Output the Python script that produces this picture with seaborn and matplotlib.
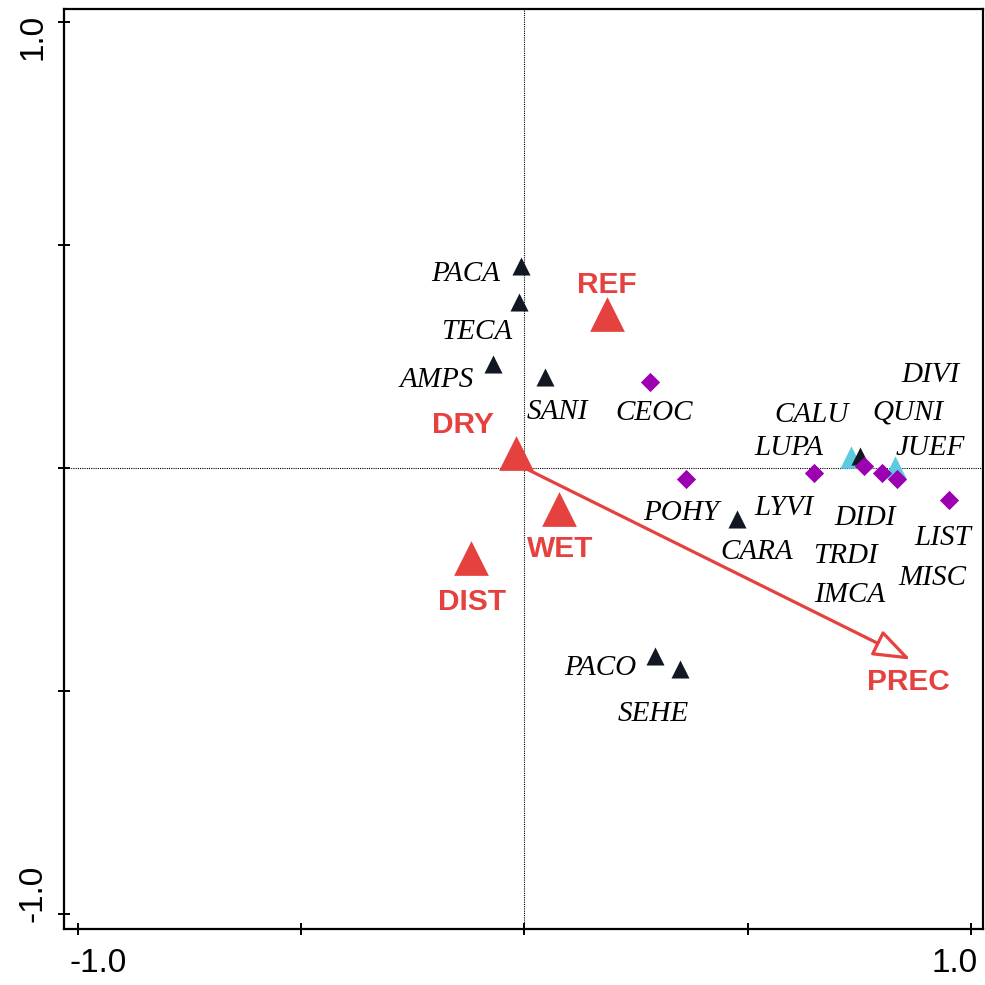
import matplotlib
matplotlib.use("Agg")
import matplotlib.pyplot as plt
import seaborn as sns
import pandas as pd

# ---------------- data ----------------
# species scores (black triangles)
sp_tri_x = [-0.008, -0.013, -0.071, 0.046, 0.477, 0.293, 0.349, 0.751]
sp_tri_y = [0.452, 0.372, 0.234, 0.203, -0.115, -0.422, -0.452, 0.027]
# species scores (cyan triangles)
sp_cyan_x = [0.731, 0.829]
sp_cyan_y = [0.025, 0.002]
# species scores (purple diamonds)
sp_dia_x = [0.282, 0.361, 0.649, 0.760, 0.800, 0.835, 0.951]
sp_dia_y = [0.192, -0.024, -0.012, 0.004, -0.011, -0.025, -0.072]

# species labels and label anchor positions (baseline)
sp_names = ["PACA", "TECA", "AMPS", "SANI", "CEOC", "CALU", "LUPA", "DIVI",
            "QUNI", "JUEF", "POHY", "LYVI", "CARA", "DIDI", "TRDI", "IMCA",
            "LIST", "MISC", "PACO", "SEHE"]
sp_lab_x = [-0.131, -0.106, -0.196, 0.073, 0.290, 0.642, 0.592, 0.910,
            0.859, 0.908, 0.350, 0.581, 0.521, 0.763, 0.720, 0.729,
            0.937, 0.913, 0.169, 0.288]
sp_lab_y = [0.419, 0.289, 0.182, 0.110, 0.108, 0.103, 0.029, 0.193,
            0.108, 0.029, -0.117, -0.105, -0.204, -0.128, -0.213, -0.300,
            -0.173, -0.262, -0.464, -0.567]

# nominal environmental variables (red triangles)
env_names = ["REF", "DRY", "WET", "DIST"]
env_x = [0.186, -0.018, 0.077, -0.119]
env_y = [0.345, 0.033, -0.092, -0.203]
env_lab_x = [0.185, -0.138, 0.080, -0.118]
env_lab_y = [0.392, 0.078, -0.200, -0.318]

# quantitative environmental variable (arrow)
arrow_names = ["PREC"]
arrow_x = [0.865]
arrow_y = [-0.430]
arrow_lab_x = [0.861]
arrow_lab_y = [-0.498]

# axis ticks
tick_vals = [-1.0, -0.5, 0.0, 0.5, 1.0]
tick_labels = ["-1.0", "1.0"]

# ---------------- style ----------------
RED = "#E5413E"
PURPLE = "#9C00B0"
CYAN = "#5CCBE2"
BLACK = "#111822"

sns.set_style("white")
plt.rcParams["font.family"] = ["Liberation Sans", "DejaVu Sans"]

fig = plt.figure(figsize=(9.85, 9.85), dpi=100)
ax = fig.add_axes([64 / 985, 56 / 985, 919 / 985, 920 / 985])

df_cyan = pd.DataFrame({"x": sp_cyan_x, "y": sp_cyan_y})
df_tri = pd.DataFrame({"x": sp_tri_x, "y": sp_tri_y})
df_dia = pd.DataFrame({"x": sp_dia_x, "y": sp_dia_y})
df_env = pd.DataFrame({"x": env_x, "y": env_y, "name": env_names})

ax.axhline(0, color="black", lw=0.8, ls=(0, (1, 1)), zorder=1)
ax.axvline(0, color="black", lw=0.8, ls=(0, (1, 1)), zorder=1)

# arrow for PREC
for a_x, a_y in zip(arrow_x, arrow_y):
    ax.annotate("", xy=(a_x, a_y), xytext=(0, 0),
                arrowprops=dict(arrowstyle="-|>,head_length=1.15,head_width=0.42",
                                mutation_scale=20, fc="white", ec=RED, lw=2.3,
                                shrinkA=0, shrinkB=0),
                zorder=2)

sns.scatterplot(data=df_cyan, x="x", y="y", marker="^", s=16 ** 2,
                color=CYAN, linewidth=0, ax=ax, zorder=3)
sns.scatterplot(data=df_tri, x="x", y="y", marker="^", s=13 ** 2,
                color=BLACK, linewidth=0, ax=ax, zorder=4)
sns.scatterplot(data=df_dia, x="x", y="y", marker="D", s=9.8 ** 2,
                color=PURPLE, linewidth=0, ax=ax, zorder=5)
sns.scatterplot(data=df_env, x="x", y="y", marker="^", s=25 ** 2,
                color=RED, linewidth=0, ax=ax, zorder=6)

for n, lx, ly in zip(sp_names, sp_lab_x, sp_lab_y):
    ax.text(lx, ly, n, ha="center", va="baseline", fontsize=21,
            family=["Liberation Serif", "DejaVu Serif"], style="italic",
            color="black", zorder=7)

for n, lx, ly in zip(env_names + arrow_names, env_lab_x + arrow_lab_x,
                     env_lab_y + arrow_lab_y):
    ax.text(lx, ly, n, ha="center", va="baseline", fontsize=21.5,
            fontweight="bold", color=RED, zorder=7)

ax.set_xlim(-1.031, 1.027)
ax.set_ylim(-1.034, 1.029)
ax.set_xlabel("")
ax.set_ylabel("")

for sp in ax.spines.values():
    sp.set_visible(True)
    sp.set_linewidth(1.6)
    sp.set_color("black")

ax.set_xticks(tick_vals)
ax.set_yticks(tick_vals)
ax.set_xticklabels([])
ax.set_yticklabels([])
ax.tick_params(which="major", direction="inout", length=8, width=1.4,
               bottom=True, left=True, top=False, right=False, color="black")

ax.set_xticks([-0.955, 0.964], labels=tick_labels, minor=True)
ax.set_yticks([-0.953, 0.966], labels=tick_labels, minor=True)
ax.tick_params(which="minor", length=0, labelsize=24, labelcolor="black",
               bottom=True, left=True)
ax.tick_params(axis="x", which="minor", pad=14)
ax.tick_params(axis="y", which="minor", pad=11)
for lab in ax.get_yticklabels(minor=True):
    lab.set_rotation(90)
    lab.set_va("center")

fig.savefig("out.png", dpi=100)
